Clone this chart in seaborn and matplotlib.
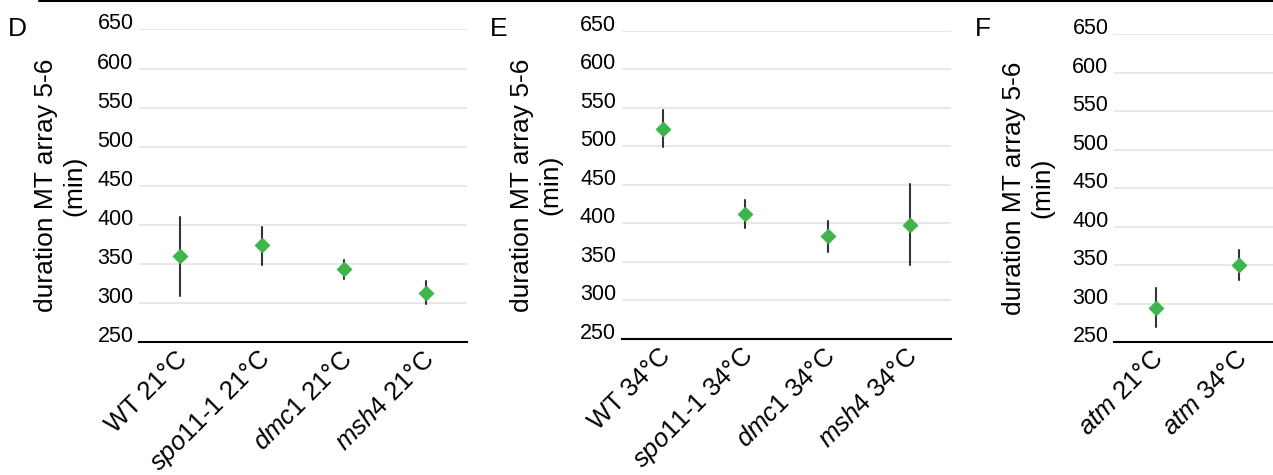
import pandas as pd
import seaborn as sns
import matplotlib.pyplot as plt
from matplotlib.lines import Line2D
from matplotlib.transforms import ScaledTranslation

# panel D: 21 °C
d_labels = ["WT 21°C", r"$\mathit{spo11}$-$\mathit{1}$ 21°C", r"$\mathit{dmc1}$ 21°C", r"$\mathit{msh4}$ 21°C"]
d_mean = [360, 374, 343, 313]
d_low = [309, 348, 331, 299]
d_high = [410, 397, 355, 328]

# panel E: 34 °C
e_labels = ["WT 34°C", r"$\mathit{spo11}$-$\mathit{1}$ 34°C", r"$\mathit{dmc1}$ 34°C", r"$\mathit{msh4}$ 34°C"]
e_mean = [523, 412, 384, 398]
e_low = [499, 394, 363, 346]
e_high = [547, 431, 403, 451]

# panel F: atm
f_labels = [r"$\mathit{atm}$ 21°C", r"$\mathit{atm}$ 34°C"]
f_mean = [294, 350]
f_low = [269, 330]
f_high = [320, 370]

y_ticks = [250, 300, 350, 400, 450, 500, 550, 600, 650]
y_label = "duration MT array 5-6\n(min)"

sns.set_theme(style="white")
plt.rcParams["font.family"] = ["Liberation Sans", "DejaVu Sans"]
plt.rcParams["mathtext.fontset"] = "custom"
plt.rcParams["mathtext.rm"] = "Liberation Sans"
plt.rcParams["mathtext.it"] = "Liberation Sans:italic"
for key in ["text.color", "axes.labelcolor", "xtick.color", "ytick.color"]:
    plt.rcParams[key] = "black"


def long_table(labels, mean, low, high):
    rows = []
    for lab, m, lo, hi in zip(labels, mean, low, high):
        for v in (lo, m, hi):
            rows.append({"group": lab, "value": v})
    return pd.DataFrame(rows)


fig = plt.figure(figsize=(12.73, 4.75), dpi=100)

panels = [
    ("D", d_labels, d_mean, d_low, d_high, [0.1092, 0.280, 0.2577, 0.658], -0.241, 0.006),
    ("E", e_labels, e_mean, e_low, e_high, [0.4884, 0.2863, 0.2587, 0.649], -0.26, 0.385),
    ("F", f_labels, f_mean, f_low, f_high, [0.8751, 0.280, 0.1312, 0.6484], -0.515, 0.766),
]

shift = ScaledTranslation(0.04, -0.05, fig.dpi_scale_trans)

for letter, labels, mean, low, high, rect, ylab_x, letter_x in panels:
    ax = fig.add_axes(rect)
    df = long_table(labels, mean, low, high)
    # median of (low, mean, high) is the mean; 100% interval spans low..high
    sns.pointplot(data=df, x="group", y="value", estimator="median",
                  errorbar=("pi", 100), linestyle="none", marker="D",
                  markersize=6, color="#3db54a",
                  err_kws={"color": "#333333", "linewidth": 1.5, "zorder": 2},
                  ax=ax)
    for ln in ax.lines:
        if ln.get_marker() == "D":
            ln.set_zorder(3)
    ax.set_xlim(-0.5, len(labels) - 0.5)
    ax.set_ylim(250, 650)
    ax.set_yticks(y_ticks)
    ax.grid(axis="y", color="#e4e4e4", linewidth=1.2)
    ax.set_axisbelow(True)
    for s in ["left", "right", "top"]:
        ax.spines[s].set_visible(False)
    ax.spines["bottom"].set_color("black")
    ax.spines["bottom"].set_linewidth(1.5)
    ax.tick_params(axis="y", length=0, pad=4, labelsize=15.5)
    ax.tick_params(axis="x", length=0, pad=6, labelsize=18.5)
    for t in ax.get_yticklabels():
        t.set_verticalalignment("baseline")
    ax.set_xticks(range(len(labels)))
    ax.set_xticklabels(labels, rotation=45, ha="right", va="center",
                       rotation_mode="anchor")
    for t in ax.get_xticklabels():
        t.set_transform(t.get_transform() + shift)
    ax.set_xlabel("")
    ax.set_ylabel(y_label, fontsize=19, linespacing=1.25, va="center")
    ax.yaxis.set_label_coords(ylab_x, 0.5)
    fig.text(letter_x, 0.938, letter, fontsize=19, ha="left", va="center")

fig.add_artist(Line2D([0.031, 1.0], [0.998, 0.998], color="black", linewidth=1.5))

plt.savefig("out.png", dpi=100)
